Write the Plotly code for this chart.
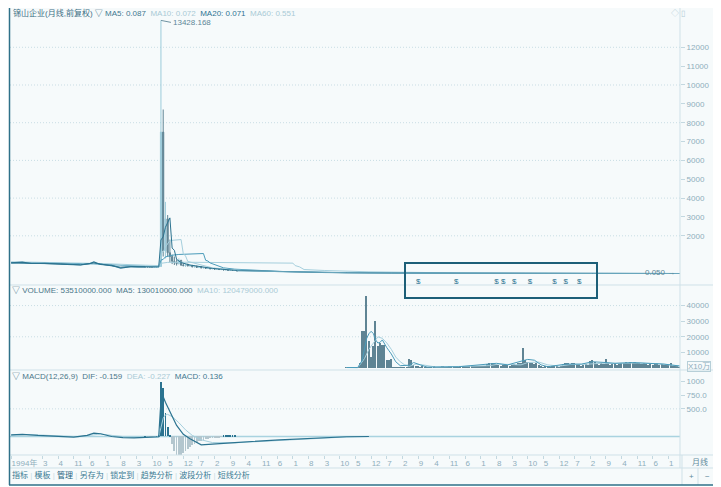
import plotly.graph_objects as go

W, H = 721, 487
# the page body adds an 8px margin round the figure; positions below are
# given in screen pixels and shifted back by this much
OFF = 8

# ---------------------------------------------------------------------------
# Data. x = month index (0 = Jan 1994).
# ---------------------------------------------------------------------------

# monthly candles around the 1999 spike
CANDLE_START = 60
OPEN = [360, 350, 340, 330, 320, 335, 345, 370, 7500, 1200, 2900, 1100, 900, 650,
        600, 520, 700, 450, 420, 480, 400, 430, 350, 390, 320, 360, 300, 320, 270,
        290, 250, 270, 230, 240, 210, 220, 190, 200, 170, 180, 160, 170]
HIGH = [380, 370, 360, 350, 345, 360, 380, 13428, 8700, 3800, 3100, 1800, 1000, 900,
        750, 800, 720, 550, 500, 520, 460, 450, 420, 400, 380, 370, 340, 330, 310,
        300, 290, 280, 260, 250, 240, 230, 220, 210, 200, 190, 180, 175]
LOW = [330, 320, 300, 300, 290, 310, 330, 360, 900, 800, 900, 600, 500, 450,
       420, 480, 400, 380, 350, 380, 360, 330, 320, 300, 290, 280, 260, 250, 240,
       230, 220, 210, 200, 190, 180, 170, 160, 150, 150, 140, 130, 120]
CLOSE = [350, 340, 330, 320, 335, 345, 370, 7500, 1200, 2900, 1100, 900, 650, 600,
         520, 700, 450, 420, 480, 400, 430, 350, 390, 320, 360, 300, 320, 270, 290,
         250, 270, 230, 240, 210, 220, 190, 200, 170, 180, 160, 170, 140]

# close price outside the candle window
CLOSE_PRE_M = [0, 5, 9, 15, 22, 28, 31, 35, 37, 40, 45, 49, 52, 54, 57, 60]
CLOSE_PRE_V = [560, 600, 530, 540, 500, 470, 450, 520, 610, 480, 430, 290, 340, 370, 350, 350]
CLOSE_POST_M = [101, 105, 110, 120, 130, 140, 150, 160, 180, 200, 230, 260, 299]
CLOSE_POST_V = [140, 130, 110, 90, 70, 50, 40, 30, 20, 10, 5, 2, 0.05]

MA5_M = [0, 9, 22, 31, 37, 42, 49, 54, 60, 66, 67, 68, 69, 70, 71, 72, 73, 74, 76,
         80, 90, 100, 120, 140, 170, 200, 250, 299]
MA5_V = [560, 550, 510, 460, 560, 460, 330, 360, 350, 350, 1780, 1950, 2450, 2700, 2950,
         1350, 1230, 750, 580, 450, 270, 170, 90, 50, 25, 10, 2, 0.087]
MA10_M = [0, 15, 30, 37, 45, 55, 66, 67, 68, 69, 71, 76, 77, 78, 79, 85, 90, 100,
          120, 150, 200, 299]
MA10_V = [570, 550, 490, 530, 450, 350, 350, 1060, 1140, 1400, 1750, 1800, 1050, 930,
          640, 440, 300, 190, 95, 40, 10, 0.072]
MA20_M = [0, 20, 37, 50, 60, 66, 67, 68, 69, 70, 72, 75, 80, 86, 87, 88, 89, 95, 100,
          120, 150, 200, 299]
MA20_V = [580, 540, 510, 420, 360, 355, 710, 750, 880, 920, 970, 1010, 1050, 1060, 700,
          660, 560, 300, 230, 110, 45, 12, 0.071]
MA60_M = [0, 20, 40, 60, 66, 67, 68, 70, 75, 88, 100, 110, 126, 127, 128, 129, 131,
          140, 160, 180, 200, 230, 260, 299]
MA60_V = [620, 590, 530, 440, 420, 540, 560, 590, 600, 590, 570, 560, 550, 420, 400,
          350, 210, 160, 90, 50, 30, 10, 3, 0.551]

DIVIDEND_M = [182, 199, 217, 220, 225, 232, 243, 248, 254]

PRICE_TICKS = [2000, 3000, 4000, 5000, 6000, 7000, 8000, 9000, 10000, 11000, 12000]
PRICE_GRID = [2000, 4000, 6000, 8000, 10000, 12000]

# volume, units of 10万 shares, months 150..299
VOL_START = 150
VOLUME = [300, 300, 400, 300, 400, 600,
          3000,
          24000, 24000, 46000, 17000, 7000, 14000, 30000, 14000, 16000, 14500, 15000,
          5000, 5000, 6000,
          600, 400, 500, 300, 400, 300, 500,
          6000, 5000, 2000, 1500, 1000,
          500, 700, 600, 400, 500, 600, 800, 500, 400, 600, 700, 500, 600, 800, 700,
          1500, 1200, 900,
          800, 1000, 1200, 900, 700, 800, 1000, 1100, 900, 800, 1000, 1200,
          2500, 3500, 3000, 3500, 2500, 2000,
          1500, 2000, 2500, 1800, 1500, 2200, 2500, 2000, 3000, 3500,
          12500, 5000, 4000, 3000, 3500, 2500, 3000, 2000,
          800, 600, 1000, 700, 500, 900, 800, 1200, 600, 900,
          2500, 3500, 3000, 2500, 3000, 3500, 2800, 2500,
          1500, 2000, 2500, 1800,
          4500, 5000, 4000,
          2500, 2000, 3000, 2500,
          6000, 3000,
          2000, 2500, 3000, 2200, 2800,
          3500, 3000, 4000, 3500, 3800, 3000, 4000, 3500, 3200, 2800, 3000,
          2500, 2000, 2800, 2200, 2500, 3000, 2000, 2500, 2200, 1800, 2000,
          3500, 1500, 1200, 1500, 535]
VMA5_M = [150, 155, 157, 159, 160, 161, 162, 163, 164, 165, 166, 167, 168, 169, 170,
          172, 174, 178, 180, 183, 186, 200, 214, 217, 222, 229, 231, 234, 237, 240,
          248, 255, 260, 266, 270, 278, 285, 292, 299]
VMA5_V = [300, 300, 5000, 19000, 22000, 23500, 22000, 18000, 16000, 16500, 18000,
          15000, 13000, 11000, 9000, 4000, 1500, 1800, 3500, 2000, 600, 800, 2500, 3000,
          2000, 4500, 5500, 5000, 2000, 800, 2500, 2500, 4000, 3500, 3000, 3500, 3000,
          2500, 1300]
VMA10_M = [150, 155, 158, 160, 162, 164, 166, 168, 170, 172, 174, 176, 178, 181, 185,
           190, 214, 218, 228, 231, 236, 240, 245, 250, 258, 264, 270, 280, 290, 299]
VMA10_V = [300, 200, 6000, 12000, 16000, 20000, 19000, 16000, 12000, 7000, 4000, 2000,
           1000, 2500, 1800, 600, 1500, 2500, 2000, 3500, 3800, 2000, 1200, 2200, 2500,
           3000, 3000, 3200, 2700, 1205]
VOL_TICKS = [10000, 20000, 30000, 40000]
VOL_GRID = [20000, 40000]

# MACD(12,26,9)
HIST_START = 60
MACD_HIST = [5, -5, -8, -5, 0, 5, 10,
             980, 880, 420, 180, 30,
             -140, -260, -330, -350, -330, -300, -260, -220, -190, -160, -130, -110,
             -90, -75, -60, -50, -40, -30, -25, -20, -15, -10, -8,
             10, 15, 20, 25, 25, 20]
DIF_M = [0, 5, 12, 20, 28, 34, 37, 40, 45, 50, 55, 60, 66, 67, 68, 69, 71, 74, 77,
         80, 85, 90, 100, 120, 140, 150, 160]
DIF_V = [30, 40, 20, 0, -10, 20, 60, 50, 0, -20, -25, -15, -5, 650, 720, 620, 450, 200,
         40, -40, -150, -140, -110, -60, -20, -5, 0]
DEA_M = [0, 6, 14, 22, 30, 36, 40, 46, 52, 58, 66, 67, 68, 69, 70, 72, 75, 78, 81,
         85, 90, 100, 120, 140, 150, 160]
DEA_V = [20, 35, 25, 5, -5, 25, 45, 15, -10, -20, -10, 160, 330, 390, 400, 360, 250,
         120, 20, -60, -110, -115, -70, -25, -8, 0]
MACD_TICKS = [500, 750, 1000]
MACD_TICKTEXT = ["500.0", "750.0", "1000"]

# bottom time axis
XLABELS = ["1994年", "3", "4", "11", "6", "1", "8", "3", "10", "5", "12", "7", "2", "9",
           "4", "11", "6", "1", "8", "3", "10", "5", "12", "7", "2", "9", "4", "11",
           "6", "1", "8", "3", "10", "5", "12", "7", "2", "9", "4", "11", "6", "1"]
XLABEL_POS = [0] + [14 + 7 * k for k in range(len(XLABELS) - 1)]

TOOLBAR = ["指标", "模板", "管理", "另存为", "锁定到", "趋势分析", "波段分析", "短线分析"]

# ---------------------------------------------------------------------------
# colours
# ---------------------------------------------------------------------------

DARK = "#2b7390"
MID = "#4a9bba"
LIGHT = "#a5cfdd"
GREY = "#5f8494"
AXIS_TXT = "#8eaebb"
SEP = "#cfe1e8"
FRAME = "#2e7189"
BG = "#f6fafb"
FONT = "Liberation Sans, Arial, Noto Sans CJK SC, sans-serif"


def px_x(p):
    return (p - OFF) / W


def px_y(p):
    return 1 - (p - OFF) / H


X_DOM = [px_x(10), px_x(680)]
X_RANGE = [-0.5, 299.1]

fig = go.Figure()

# --- price panel -----------------------------------------------------------
candle_x = [CANDLE_START + i for i in range(len(OPEN))]

for m, v, color in [
    (MA60_M, MA60_V, LIGHT),
    (MA20_M, MA20_V, MID),
    (MA10_M, MA10_V, LIGHT),
    (MA5_M, MA5_V, DARK),
]:
    fig.add_trace(go.Scatter(x=m, y=v, mode="lines", line=dict(color=color, width=1),
                             xaxis="x", yaxis="y", hoverinfo="skip"))

fig.add_trace(go.Scatter(x=CLOSE_PRE_M, y=CLOSE_PRE_V, mode="lines",
                         line=dict(color=DARK, width=1.2), xaxis="x", yaxis="y"))
fig.add_trace(go.Scatter(x=CLOSE_POST_M, y=CLOSE_POST_V, mode="lines",
                         line=dict(color="#6aa7bd", width=1), xaxis="x", yaxis="y"))

fig.add_trace(go.Candlestick(
    x=candle_x, open=OPEN, high=HIGH, low=LOW, close=CLOSE,
    increasing=dict(line=dict(color="#9ccbda", width=1), fillcolor="#9ccbda"),
    decreasing=dict(line=dict(color=GREY, width=1), fillcolor=GREY),
    whiskerwidth=0, xaxis="x", yaxis="y",
))

fig.add_trace(go.Scatter(
    x=DIVIDEND_M, y=[-450] * len(DIVIDEND_M), mode="text", text=["$"] * len(DIVIDEND_M),
    textfont=dict(size=8, color=DARK, family=FONT), xaxis="x", yaxis="y",
))

# --- volume panel ----------------------------------------------------------
vol_x = [VOL_START + i for i in range(len(VOLUME))]
fig.add_trace(go.Bar(x=vol_x, y=VOLUME, marker=dict(color=GREY, line=dict(width=0)),
                     width=0.7, xaxis="x2", yaxis="y2"))
fig.add_trace(go.Scatter(x=VMA10_M, y=VMA10_V, mode="lines", line=dict(color=LIGHT, width=1),
                         xaxis="x2", yaxis="y2"))
fig.add_trace(go.Scatter(x=VMA5_M, y=VMA5_V, mode="lines", line=dict(color=MID, width=1),
                         xaxis="x2", yaxis="y2"))

# --- MACD panel ------------------------------------------------------------
hist_x = [HIST_START + i for i in range(len(MACD_HIST))]
fig.add_trace(go.Bar(
    x=hist_x, y=MACD_HIST, width=0.35,
    marker=dict(color=[DARK if v >= 0 else "#b3c6ce" for v in MACD_HIST], line=dict(width=0)),
    xaxis="x3", yaxis="y3",
))
fig.add_trace(go.Scatter(x=DEA_M, y=DEA_V, mode="lines", line=dict(color=LIGHT, width=1),
                         xaxis="x3", yaxis="y3"))
fig.add_trace(go.Scatter(x=DIF_M, y=DIF_V, mode="lines", line=dict(color=DARK, width=1.2),
                         xaxis="x3", yaxis="y3"))

# --- axes ------------------------------------------------------------------
tickfont = dict(size=8, color=AXIS_TXT, family=FONT)
x_common = dict(domain=X_DOM, range=X_RANGE, showgrid=False, zeroline=False,
                showline=False, fixedrange=True)
y_common = dict(side="right", showgrid=False, zeroline=False, showline=False,
                ticks="outside", ticklen=4, tickcolor="#c3d8e0", tickfont=tickfont,
                tickformat="d")

fig.update_layout(
    xaxis=dict(**x_common, anchor="y", showticklabels=False, rangeslider=dict(visible=False)),
    xaxis2=dict(**x_common, anchor="y2", showticklabels=False),
    xaxis3=dict(**x_common, anchor="y3", tickmode="array", tickvals=XLABEL_POS,
                ticktext=XLABELS, tickfont=tickfont, ticks="outside", ticklen=3,
                tickcolor="#c3d8e0", tickangle=0, ticklabelposition="outside right"),
    yaxis=dict(**y_common, anchor="x", domain=[px_y(284), px_y(18)], range=[-557, 13554],
               tickmode="array", tickvals=PRICE_TICKS),
    yaxis2=dict(**y_common, anchor="x2", domain=[px_y(369), px_y(287)], range=[-641, 51900],
                tickmode="array", tickvals=VOL_TICKS),
    yaxis3=dict(**y_common, anchor="x3", domain=[px_y(455), px_y(372)], range=[-335, 1167],
                tickmode="array", tickvals=MACD_TICKS, ticktext=MACD_TICKTEXT),
)

# --- frame, separators, grid -----------------------------------------------
shapes = [
    dict(type="rect", xref="paper", yref="paper", x0=px_x(9), x1=px_x(714),
         y0=px_y(485), y1=px_y(7), fillcolor=BG, line=dict(width=0), layer="below"),
]


def hline(y, x0=9, x1=714, color=SEP, width=1):
    shapes.append(dict(type="line", xref="paper", yref="paper", x0=px_x(x0), x1=px_x(x1),
                       y0=px_y(y), y1=px_y(y), line=dict(color=color, width=width)))


def vline(x, y0=7, y1=485, color=SEP, width=1):
    shapes.append(dict(type="line", xref="paper", yref="paper", x0=px_x(x), x1=px_x(x),
                       y0=px_y(y0), y1=px_y(y1), line=dict(color=color, width=width)))


hline(7, color="#b9d2db")
hline(285)
hline(370)
hline(455)
hline(468)
vline(680, 7, 468)
vline(682, 455, 485)
vline(698, 468, 485)
vline(9.5, color=FRAME, width=1.5)
vline(714, color=FRAME, width=1.5)
hline(485, color=FRAME, width=1.5)

for g, ref in [(v, "y") for v in PRICE_GRID] + [(v, "y2") for v in VOL_GRID] + [(500, "y3")]:
    xr = {"y": "x", "y2": "x2", "y3": "x3"}[ref]
    shapes.append(dict(type="line", xref=f"{xr} domain", yref=ref, x0=0, x1=1, y0=g, y1=g,
                       line=dict(color="#c9dde4", width=1, dash="1px,2px"), layer="below"))

shapes.append(dict(type="line", xref="x3 domain", yref="y3", x0=0, x1=1, y0=0, y1=0,
                   line=dict(color="#a9d3e0", width=1.5), layer="below"))

# highlighted box around the dividend markers
shapes.append(dict(type="rect", xref="paper", yref="paper", x0=px_x(405), x1=px_x(597),
                   y0=px_y(298), y1=px_y(263), line=dict(color="#1d5f78", width=2)))


# --- text ------------------------------------------------------------------
def span(txt, color):
    return f"<span style='color:{color}'>{txt}</span>"


annotations = [
    dict(text=span("锦山企业(月线,前复权) ▽ ", "#3c6f84") + span("MA5: 0.087", "#3f7890")
         + "  " + span("MA10: 0.072", "#a9cad6") + "  " + span("MA20: 0.071", "#2f7492")
         + "  " + span("MA60: 0.551", "#a9cad6"),
         x=px_x(11), y=px_y(13)),
    dict(text=span("▽ VOLUME: 53510000.000  MA5: 130010000.000", "#4b7789") + "  "
         + span("MA10: 120479000.000", "#a9cad6"),
         x=px_x(10), y=px_y(290)),
    dict(text=span("▽ MACD(12,26,9)  DIF: -0.159", "#4b7789") + "  "
         + span("DEA: -0.227", "#a9cad6") + "  " + span("MACD: 0.136", "#3f7890"),
         x=px_x(10), y=px_y(376)),
    dict(text=span("◇ ▯", "#b3ccd6"), x=px_x(669), y=px_y(14)),
    dict(text=span("0.050 →", "#5d8798"), x=px_x(643), y=px_y(272)),
    dict(text=span("X10万", "#8eaebb"), x=px_x(687), y=px_y(366),
         bordercolor="#b7cfd8", borderwidth=1, borderpad=0),
    dict(text=span("月线", "#5f8a9b"), x=px_x(690), y=px_y(462)),
    dict(text=span("+", "#5f8a9b"), x=px_x(687), y=px_y(476)),
    dict(text=span("−", "#5f8a9b"), x=px_x(703), y=px_y(476)),
    dict(text=(" " + span("|", "#c9dce3") + " ").join(
        span(t, "#1f6480" if t == "管理" else "#3b7a93") for t in TOOLBAR),
         x=px_x(10), y=px_y(475)),
]
for a in annotations:
    a.update(xref="paper", yref="paper", xanchor="left", yanchor="middle",
             showarrow=False, font=dict(size=8, family=FONT))

# spike high marker
annotations.append(dict(
    x=67, y=13428, xref="x", yref="y", text="13428.168", showarrow=True, arrowhead=0,
    arrowwidth=1, arrowcolor="#6f93a2", ax=10, ay=2, xanchor="left", yanchor="middle",
    font=dict(size=8, color="#5d8798", family=FONT),
))

fig.update_layout(
    width=W, height=H, margin=dict(l=0, r=0, t=0, b=0),
    paper_bgcolor="#ffffff", plot_bgcolor="rgba(0,0,0,0)",
    showlegend=False, bargap=0, shapes=shapes, annotations=annotations,
    font=dict(family=FONT),
)

fig.write_html("out.html")
